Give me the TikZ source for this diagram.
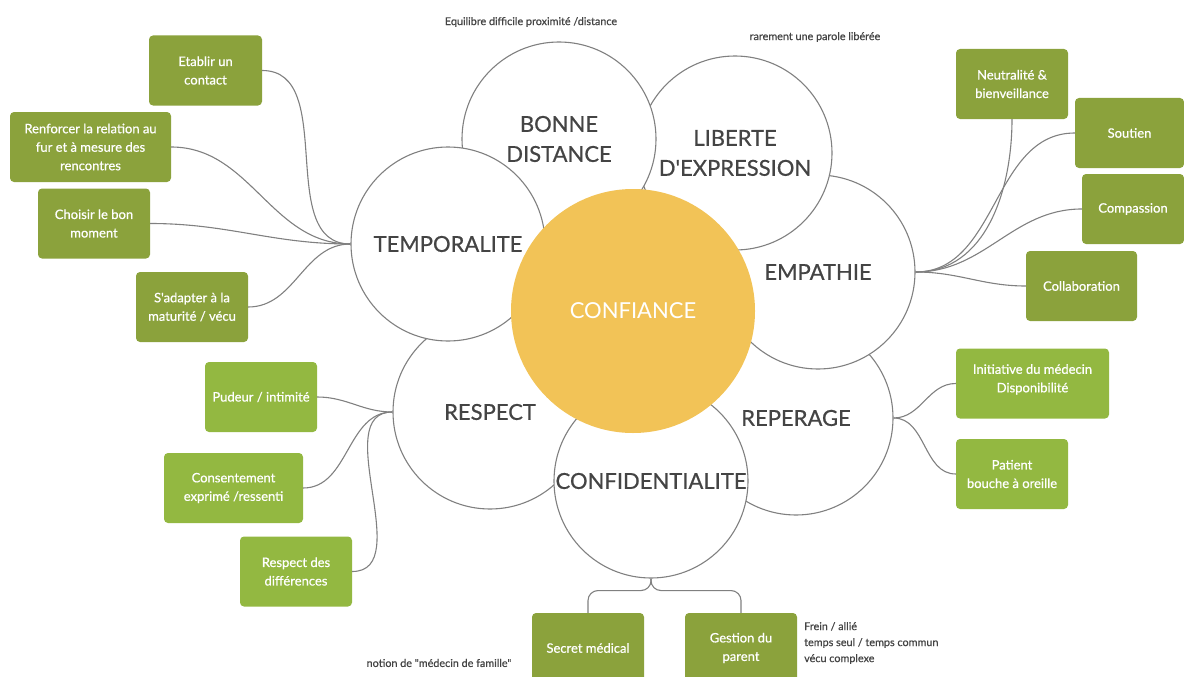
\documentclass[tikz,border=0pt]{standalone}
\usepackage{fontspec}
\setmainfont{Lato}
\newfontfamily\latoreg{Lato}
\newfontfamily\latomed[FakeBold=0.6]{Lato}
\definecolor{gdark}{HTML}{8BA23C}
\definecolor{glight}{HTML}{93B841}
\definecolor{sun}{HTML}{F2C357}
\definecolor{ink}{HTML}{444444}
\definecolor{wire}{HTML}{808080}
\begin{document}
\begin{tikzpicture}[x=1pt,y=1pt,
  petal/.style={circle,draw=wire,line width=1.1pt,fill=white,minimum size=194pt,inner sep=0pt},
  bigtext/.style={font=\latomed\fontsize{22}{30}\selectfont,text=ink,align=center},
  greenbox/.style={rounded corners=4pt,minimum height=70pt,inner sep=2pt,text=white,align=center,font=\latomed\fontsize{13}{18.5}\selectfont},
  dk/.style={greenbox,fill=gdark},
  lt/.style={greenbox,fill=glight},
  conn/.style={draw=wire,line width=1.1pt},
  annot/.style={text=ink,font=\latomed\fontsize{10.8}{16}\selectfont,inner sep=0pt}]
\useasboundingbox (0,0) rectangle (1184,-677);
\clip (0,0) rectangle (1184,-677);
% petals (bottom to top)
\node[petal] (c5) at (796,-418) {};
\node[petal] (c4) at (818,-272) {};
\node[petal] (c2) at (735,-153) {};
\node[petal] (c1) at (559,-139) {};
\node[petal] (c7) at (490,-412) {};
\node[petal] (c6) at (651,-481) {};
\node[petal] (c3) at (448,-244) {};
\node[circle,fill=sun,minimum size=244pt,inner sep=0pt] (c0) at (633,-311) {};
% petal texts
\node[bigtext] (t1) at (c1.center) {BONNE\\DISTANCE};
\node[bigtext] (t2) at (c2.center) {LIBERTE\\D'EXPRESSION};
\node[bigtext] (t3) at (c3.center) {TEMPORALITE};
\node[bigtext] (t4) at (c4.center) {EMPATHIE};
\node[bigtext] (t5) at (c5.center) {REPERAGE};
\node[bigtext] (t6) at (c6.center) {CONFIDENTIALITE};
\node[bigtext] (t7) at (c7.center) {RESPECT};
\node[bigtext,text=white,font=\latoreg\fontsize{22}{30}\selectfont] (t0) at (c0.center) {CONFIANCE};
% boxes
\node[dk,minimum width=113pt] (b1) at (205.5,-70.5) {Etablir un\\contact};
\node[dk,minimum width=161pt] (b2) at (90.5,-147) {Renforcer la relation au\\fur et à mesure des\\rencontres};
\node[dk,minimum width=112pt] (b3) at (94,-223.5) {Choisir le bon\\moment};
\node[dk,minimum width=112pt] (b4) at (192,-307) {S'adapter à la\\maturité / vécu};
\node[dk,minimum width=112pt] (b5) at (1012,-84) {Neutralité \&\\bienveillance};
\node[dk,minimum width=109pt] (b6) at (1129.5,-133) {Soutien};
\node[dk,minimum width=102pt] (b7) at (1133,-209) {Compassion};
\node[dk,minimum width=111pt] (b8) at (1081.5,-286) {Collaboration};
\node[dk,minimum width=112pt] (b9) at (588,-648) {Secret médical};
\node[dk,minimum width=112pt] (b10) at (741,-648) {Gestion du\\parent};
\node[lt,minimum width=112pt] (b11) at (261,-397) {Pudeur / intimité};
\node[lt,minimum width=139pt] (b12) at (233.5,-488) {Consentement\\exprimé /ressenti};
\node[lt,minimum width=112pt] (b13) at (296,-571.5) {Respect des\\différences};
\node[lt,minimum width=153pt] (b14) at (1032.5,-383.5) {Initiative du médecin\\Disponibilité\\[-8pt]\mbox{}};
\node[lt,minimum width=112pt] (b15) at (1012,-474) {Patient\\bouche à oreille};
% connectors
\draw[conn] (c3.west) to[out=180,in=0] (b1.east);
\draw[conn] (c3.west) to[out=180,in=0] (b2.east);
\draw[conn] (c3.west) to[out=180,in=0] (b3.east);
\draw[conn] (c3.west) to[out=180,in=0] (b4.east);
\draw[conn] (c4.east) to[out=0,in=-90] (b5.south);
\draw[conn] (c4.east) to[out=0,in=180] (b6.west);
\draw[conn] (c4.east) to[out=0,in=180] (b7.west);
\draw[conn] (c4.east) to[out=0,in=180] (b8.west);
\draw[conn] (c5.east) to[out=0,in=180] (b14.west);
\draw[conn] (c5.east) to[out=0,in=180] (b15.west);
\draw[conn] (c7.west) to[out=180,in=0] (b11.east);
\draw[conn] (c7.west) to[out=180,in=0] (b12.east);
\draw[conn] (c7.west) to[out=180,in=0] (b13.east);
\draw[conn,rounded corners=10pt] (c6.south) -- ++(0,-12) -| (b9.north);
\draw[conn,rounded corners=10pt] (c6.south) -- ++(0,-12) -| (b10.north);
% annotations
\node[annot] (a1) at (531,-22) {Equilibre difficile proximité /distance};
\node[annot] (a2) at (815,-37) {rarement une parole libérée};
\node[annot] (a3) at (439,-663) {notion de "médecin de famille"};
\node[annot,anchor=west,align=left] (a4) at (804,-643) {Frein / allié\\temps seul / temps commun\\vécu complexe};
\end{tikzpicture}
\end{document}
